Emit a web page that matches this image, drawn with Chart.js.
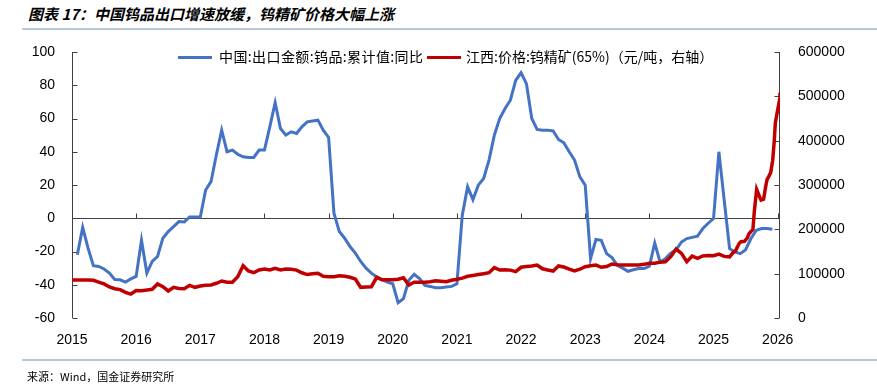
<!DOCTYPE html>
<html>
<head>
<meta charset="utf-8">
<script src="https://cdn.jsdelivr.net/npm/chart.js@4.4.1/dist/chart.umd.min.js"></script>
<style>
  body { margin: 0; background: #fff; }
  #wrap { position: relative; width: 877px; height: 384px; overflow: hidden; font-family: "Noto Sans CJK SC", sans-serif; color: #000; }
  #chart { position: absolute; left: 0; top: 0; }
  .title { position: absolute; left: 28px; top: 3px; font-size: 15px; font-weight: bold; font-style: italic; white-space: nowrap; }
  .rule { position: absolute; left: 22px; right: 0; height: 2px; background: #b9c8d8; }
  .source { position: absolute; left: 27px; top: 368px; font-size: 11px; white-space: nowrap; }
  .leg { position: absolute; top: 47px; font-size: 14px; line-height: 19px; white-space: nowrap; }
  .swatch { position: absolute; top: 56px; height: 3px; }
</style>
</head>
<body>
<div id="wrap">
  <div class="title">图表 17：中国钨品出口增速放缓，钨精矿价格大幅上涨</div>
  <div class="rule" style="top:28px"></div>
  <canvas id="chart" width="877" height="384"></canvas>
  <div class="swatch" style="left:178px;width:34px;background:#4472C4"></div>
  <div class="leg" style="left:219px;letter-spacing:0.4px">中国:出口金额:钨品:累计值:同比</div>
  <div class="swatch" style="left:427px;width:34px;background:#C00000"></div>
  <div class="leg" style="left:466px">江西:价格:钨精矿(65%)（元/吨，右轴）</div>
  <div class="rule" style="top:359px"></div>
  <div class="source">来源：Wind，国金证券研究所</div>
</div>
<script>
// 中国:出口金额:钨品:累计值:同比 (%), monthly from 2015-02
const exportStart = [2015, 2];
const exportYoY = [
  -22, -5.5, -18, -28.5, -29, -30.5, -33, -36.8, -37, -38.4, -36.5,          // 2015
  -35, -13.3, -33, -26, -23, -12, -8, -5, -2, -2.2, 0.8, 0.8,                 // 2016
  0.8, 17, 22, 38, 53, 40, 41, 38.5, 37, 36.6, 36.6, 41,                      // 2017
  41, 55, 69.5, 54, 50, 52, 51, 55, 58, 58.5, 59, 53,                         // 2018
  48.6, 3, -8, -12, -17, -21, -26, -30, -33, -35.3, -37, -38.4,               // 2019
  -39.4, -50.8, -48.4, -37.3, -33.7, -36.3, -40.4, -41, -41.8, -41.8, -41.4, -41, // 2020
  -39.4, 1.8, 18.9, 11.2, 19.9, 23.9, 35, 50, 60, 66, 71, 83,                 // 2021
  87.5, 81, 60, 53.4, 53, 53, 52.5, 47.4, 45.4, 40, 35, 24.9,                 // 2022
  19.9, -24.3, -12.8, -13.3, -21.3, -23.7, -28.3, -30, -31.9, -31, -30.3, -30.3, // 2023
  -28.9, -14.9, -26.3, -24.3, -21, -19, -14.3, -12.2, -11.5, -10.8, -6.2, -3, // 2024
  -0.2, 40, 10.8, -18.3, -20.3, -21.3, -18.9, -12.2, -7.2, -6.2, -6.2, -6.6   // 2025
];

// 江西:价格:钨精矿(65%) (元/吨), monthly from 2015-01 to 2025-03
const priceStart = [2015, 1];
const priceMonthly = [
  85700, 85700, 85700, 85700, 85000, 81000, 77000, 70000, 66000, 64000, 58000, 54000,         // 2015
  62000, 61600, 63000, 64700, 76700, 70600, 61000, 69200, 66500, 66100, 73700, 69200,         // 2016
  72000, 74000, 74400, 78300, 83500, 80500, 80500, 93200, 118000, 106000, 102200, 108300,     // 2017
  110500, 108300, 112000, 108300, 110500, 110000, 108000, 102000, 98000, 100000, 101000, 94000, // 2018
  93200, 93200, 95400, 94000, 91800, 88000, 69200, 70000, 70600, 91800, 86000, 86000,         // 2019
  86500, 87300, 90900, 74400, 80500, 80500, 80500, 82000, 84100, 83000, 81900, 85000,         // 2020
  87300, 90000, 94000, 96000, 98000, 100000, 102200, 113500, 108300, 109000, 108000, 104500,  // 2021
  114400, 116000, 117300, 119500, 111000, 108300, 106000, 117300, 115000, 110000, 106000, 110000, // 2022
  115700, 118000, 119500, 114400, 116000, 121800, 120000, 119500, 119500, 119500, 119500, 121000, // 2023
  123400, 123400, 126000, 127000, 138300, 155600, 145900, 127000, 139800, 134700, 140000, 141000, // 2024
  140500, 144000, 139000                                                                       // 2025 Q1
];
// denser readings for the 2025 surge
const priceLateDates = [
  '2025-04-01', '2025-04-20', '2025-05-05', '2025-05-25', '2025-06-05', '2025-06-25',
  '2025-07-10', '2025-07-20', '2025-08-01', '2025-08-12', '2025-08-20', '2025-09-03',
  '2025-09-15', '2025-09-28', '2025-10-12', '2025-10-22', '2025-11-01', '2025-11-12',
  '2025-11-22', '2025-12-03', '2025-12-12', '2025-12-18', '2025-12-28', '2026-01-05',
  '2026-01-09', '2026-01-14'
];
const priceLateValues = [
  138000, 147000, 152000, 168000, 172000, 173000,
  180000, 190000, 195000, 199000, 240000, 290000,
  278000, 266000, 268000, 292000, 312000, 320000,
  328000, 356000, 400000, 440000, 462000, 478000,
  468000, 508000
];

const yearTicks = [2015, 2016, 2017, 2018, 2019, 2020, 2021, 2022, 2023, 2024, 2025, 2026];
const leftTicks = [-60, -40, -20, 0, 20, 40, 60, 80, 100];
const rightTicks = [0, 100000, 200000, 300000, 400000, 500000, 600000];

function monthLabels(start, count) {
  const out = [];
  for (let i = 0; i < count; i++) {
    const m = start[1] - 1 + i;
    out.push(`${start[0] + Math.floor(m / 12)}-${String(m % 12 + 1).padStart(2, '0')}-01`);
  }
  return out;
}

function toYear(s) {
  const [y, m, d] = s.split('-').map(Number);
  return y + (m - 1) / 12 + (d - 1) / 365;
}

const exportMonths = monthLabels(exportStart, exportYoY.length);
const priceDates = monthLabels(priceStart, priceMonthly.length).concat(priceLateDates);
const priceValues = priceMonthly.concat(priceLateValues);

const exportData = exportMonths.map((d, i) => ({ x: toYear(d), y: exportYoY[i] }));
const priceData = priceDates.map((d, i) => ({ x: toYear(d), y: priceValues[i] }));

const tickFont = { family: '"Liberation Sans Narrow", "Arial Narrow", "Liberation Sans", sans-serif', size: 14 };
const axisColor = '#404040';

// axis lines, inside tick marks and the zero line with its year ticks
const axisPlugin = {
  id: 'axisLines',
  beforeDatasetsDraw(chart) {
    const { ctx, chartArea: a, scales } = chart;
    ctx.save();
    ctx.strokeStyle = axisColor;
    ctx.lineWidth = 1;
    ctx.beginPath();
    const L = Math.round(a.left) + 0.5, R = Math.round(a.right) - 0.5;
    ctx.moveTo(L, a.top); ctx.lineTo(L, a.bottom);
    ctx.moveTo(R, a.top); ctx.lineTo(R, a.bottom);
    leftTicks.forEach(v => {
      const y = Math.round(scales.y.getPixelForValue(v)) + 0.5;
      ctx.moveTo(L, y); ctx.lineTo(L + 5, y);
    });
    rightTicks.forEach(v => {
      const y = Math.round(scales.y2.getPixelForValue(v)) + 0.5;
      ctx.moveTo(R - 5, y); ctx.lineTo(R, y);
    });
    const zy = Math.round(scales.y.getPixelForValue(0)) + 0.5;
    ctx.moveTo(L, zy); ctx.lineTo(R, zy);
    yearTicks.forEach(v => {
      const x = Math.round(scales.x.getPixelForValue(v)) + 0.5;
      ctx.moveTo(x, zy); ctx.lineTo(x, zy - 5);
    });
    ctx.stroke();
    ctx.restore();
  }
};

new Chart(document.getElementById('chart'), {
  type: 'line',
  data: {
    datasets: [
      {
        label: '江西:价格:钨精矿(65%)（元/吨，右轴）',
        data: priceData,
        yAxisID: 'y2',
        borderColor: '#C00000',
        borderWidth: 3.5,
        pointRadius: 0,
        tension: 0,
        order: 0
      },
      {
        label: '中国:出口金额:钨品:累计值:同比',
        data: exportData,
        yAxisID: 'y',
        borderColor: '#4472C4',
        borderWidth: 3,
        pointRadius: 0,
        tension: 0,
        order: 1
      }
    ]
  },
  options: {
    responsive: false,
    animation: false,
    events: [],
    layout: { padding: { top: 52 } },
    plugins: { legend: { display: false }, tooltip: { enabled: false } },
    scales: {
      x: {
        type: 'linear',
        min: 2015,
        max: 2026.036,
        grid: { display: false },
        border: { display: false },
        afterBuildTicks: s => { s.ticks = yearTicks.map(v => ({ value: v })); },
        afterFit: s => { s.height = 66; },
        ticks: { autoSkip: false, maxRotation: 0, padding: 6, font: tickFont, color: '#000', callback: v => String(v) }
      },
      y: {
        position: 'left',
        min: -60,
        max: 100,
        grid: { display: false },
        border: { display: false },
        afterBuildTicks: s => { s.ticks = leftTicks.map(v => ({ value: v })); },
        afterFit: s => { s.width = 72; },
        ticks: { padding: 9, font: tickFont, color: '#000', callback: v => String(v) }
      },
      y2: {
        position: 'right',
        min: 0,
        max: 600000,
        grid: { display: false },
        border: { display: false },
        afterBuildTicks: s => { s.ticks = rightTicks.map(v => ({ value: v })); },
        afterFit: s => { s.width = 97; },
        ticks: { padding: 10, font: tickFont, color: '#000', callback: v => String(v) }
      }
    }
  },
  plugins: [axisPlugin]
});
</script>
</body>
</html>
